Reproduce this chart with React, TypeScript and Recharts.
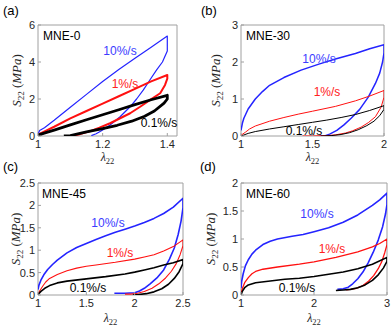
import React from 'react'
import { LineChart, Line, XAxis, YAxis, ReferenceArea } from 'recharts'

type Pt = [number, number]

// each loop: loading branch, then unloading branch (strain λ22, stress S22 in MPa)

// (a) MNE-0
const a10: Pt[] = [[1, 0.1], [1.005, 0.3], [1.02, 0.45], [1.05, 0.85], [1.1, 1.55], [1.15, 2.25], [1.2, 2.95], [1.25, 3.6], [1.3, 4.2], [1.35, 4.8], [1.4, 5.4], [1.4, 4.6], [1.385, 4.0], [1.367, 3.57], [1.345, 3.0], [1.326, 2.49], [1.305, 2.0], [1.285, 1.58], [1.254, 1.04], [1.223, 0.59], [1.2, 0.32], [1.18, 0.12], [1.165, 0.02]]
const a1: Pt[] = [[1, 0.08], [1.05, 0.5], [1.1, 0.95], [1.15, 1.35], [1.2, 1.75], [1.25, 2.15], [1.3, 2.55], [1.35, 2.95], [1.4, 3.3], [1.4, 3.1], [1.393, 2.76], [1.378, 2.31], [1.347, 1.95], [1.316, 1.58], [1.285, 1.23], [1.254, 0.96], [1.223, 0.69], [1.19, 0.45], [1.16, 0.25], [1.13, 0.1], [1.11, 0.03], [1.1, 0.0]]
const a01: Pt[] = [[1, 0.05], [1.05, 0.32], [1.1, 0.6], [1.15, 0.88], [1.2, 1.15], [1.25, 1.42], [1.3, 1.7], [1.35, 1.96], [1.4, 2.2], [1.4, 2.0], [1.39, 1.78], [1.36, 1.35], [1.33, 1.07], [1.29, 0.8], [1.245, 0.58], [1.2, 0.4], [1.15, 0.22], [1.12, 0.1], [1.1, 0.02], [1.08, 0.0]]

// (b) MNE-30
const b10: Pt[] = [[1, 0.15], [1.01, 0.35], [1.02, 0.48], [1.05, 0.73], [1.1, 1.0], [1.15, 1.2], [1.2, 1.37], [1.3, 1.58], [1.42, 1.78], [1.55, 1.95], [1.66, 2.08], [1.8, 2.23], [1.9, 2.36], [2.0, 2.47], [2.0, 2.25], [1.99, 2.0], [1.97, 1.7], [1.94, 1.42], [1.89, 1.05], [1.83, 0.72], [1.77, 0.48], [1.72, 0.3], [1.67, 0.15], [1.62, 0.05], [1.59, 0.01], [1.55, 0.0]]
const b1: Pt[] = [[1, 0.02], [1.03, 0.1], [1.06, 0.19], [1.1, 0.27], [1.2, 0.4], [1.3, 0.5], [1.4, 0.59], [1.5, 0.67], [1.66, 0.8], [1.8, 0.95], [1.9, 1.08], [2.0, 1.23], [2.0, 1.05], [1.98, 0.78], [1.94, 0.52], [1.89, 0.36], [1.84, 0.24], [1.78, 0.14], [1.73, 0.08], [1.66, 0.03], [1.6, 0.01], [1.5, 0.0], [1.43, 0.0]]
const b01: Pt[] = [[1, 0.0], [1.05, 0.07], [1.1, 0.12], [1.2, 0.19], [1.3, 0.25], [1.4, 0.31], [1.5, 0.37], [1.6, 0.43], [1.7, 0.5], [1.8, 0.58], [1.9, 0.69], [2.0, 0.82], [2.0, 0.72], [1.97, 0.55], [1.93, 0.4], [1.88, 0.28], [1.82, 0.17], [1.76, 0.09], [1.7, 0.04], [1.63, 0.01], [1.56, 0.0]]

// (c) MNE-45
const c10: Pt[] = [[1, 0.12], [1.01, 0.22], [1.03, 0.33], [1.06, 0.45], [1.1, 0.57], [1.15, 0.68], [1.2, 0.78], [1.3, 0.94], [1.4, 1.06], [1.5, 1.15], [1.6, 1.24], [1.7, 1.32], [1.8, 1.4], [1.9, 1.47], [2.0, 1.54], [2.1, 1.62], [2.2, 1.71], [2.3, 1.82], [2.4, 1.96], [2.5, 2.16], [2.5, 1.95], [2.48, 1.65], [2.45, 1.35], [2.41, 1.05], [2.36, 0.8], [2.3, 0.56], [2.23, 0.38], [2.16, 0.25], [2.1, 0.15], [2.05, 0.09], [2.0, 0.05], [1.9, 0.04], [1.79, 0.04]]
const c1: Pt[] = [[1, 0.02], [1.02, 0.1], [1.05, 0.2], [1.08, 0.29], [1.12, 0.37], [1.2, 0.46], [1.3, 0.54], [1.4, 0.6], [1.5, 0.64], [1.6, 0.67], [1.8, 0.73], [2.0, 0.8], [2.1, 0.85], [2.2, 0.9], [2.3, 0.98], [2.4, 1.08], [2.5, 1.23], [2.5, 1.1], [2.47, 0.9], [2.43, 0.7], [2.38, 0.53], [2.32, 0.38], [2.25, 0.25], [2.18, 0.15], [2.1, 0.08], [2.03, 0.04], [1.96, 0.02], [1.9, 0.02]]
const c01: Pt[] = [[1, 0.01], [1.03, 0.08], [1.07, 0.15], [1.12, 0.21], [1.2, 0.27], [1.3, 0.31], [1.5, 0.36], [1.7, 0.41], [1.9, 0.47], [2.0, 0.51], [2.1, 0.56], [2.2, 0.61], [2.3, 0.67], [2.4, 0.72], [2.5, 0.79], [2.5, 0.7], [2.46, 0.52], [2.41, 0.37], [2.35, 0.24], [2.28, 0.14], [2.2, 0.07], [2.12, 0.03], [2.04, 0.01], [1.98, 0.0]]

// (d) MNE-60
const d10: Pt[] = [[1, 0.12], [1.01, 0.25], [1.03, 0.38], [1.06, 0.52], [1.1, 0.63], [1.15, 0.73], [1.2, 0.8], [1.3, 0.9], [1.4, 0.96], [1.5, 1.0], [1.7, 1.05], [1.85, 1.08], [2.0, 1.13], [2.2, 1.2], [2.4, 1.3], [2.6, 1.43], [2.8, 1.6], [2.9, 1.7], [3.0, 1.82], [3.0, 1.62], [2.98, 1.45], [2.94, 1.22], [2.88, 0.98], [2.81, 0.76], [2.74, 0.57], [2.67, 0.41], [2.6, 0.29], [2.53, 0.2], [2.47, 0.14], [2.4, 0.11], [2.32, 0.1]]
const d1: Pt[] = [[1, 0.02], [1.02, 0.12], [1.05, 0.22], [1.1, 0.31], [1.15, 0.38], [1.2, 0.42], [1.3, 0.46], [1.5, 0.5], [1.8, 0.55], [2.0, 0.59], [2.3, 0.67], [2.6, 0.77], [2.8, 0.86], [2.9, 0.92], [3.0, 1.0], [3.0, 0.9], [2.97, 0.76], [2.93, 0.6], [2.88, 0.47], [2.82, 0.35], [2.75, 0.25], [2.67, 0.17], [2.58, 0.12], [2.5, 0.1], [2.44, 0.09]]
const d01: Pt[] = [[1, 0.0], [1.02, 0.07], [1.05, 0.13], [1.1, 0.18], [1.2, 0.22], [1.4, 0.25], [1.6, 0.28], [1.8, 0.3], [2.0, 0.33], [2.2, 0.37], [2.4, 0.41], [2.6, 0.47], [2.8, 0.55], [3.0, 0.67], [3.0, 0.6], [2.95, 0.48], [2.88, 0.36], [2.8, 0.26], [2.7, 0.18], [2.6, 0.13], [2.5, 0.1], [2.4, 0.09], [2.3, 0.08]]

const rateLabels = ['10%/s', '1%/s', '0.1%/s']
const sampleNames = ['MNE-0', 'MNE-30', 'MNE-45', 'MNE-60']
const panelLetters = ['(a)', '(b)', '(c)', '(d)']

const xTicksA = [1, 1.2, 1.4]
const xTicksB = [1, 1.5, 2]
const xTicksC = [1, 1.5, 2, 2.5]
const xTicksD = [1, 2, 3]
const yTicksA = [0, 2, 4, 6]
const yTicksB = [0, 1, 2, 3]
const yTicksC = [0, 0.5, 1, 1.5, 2, 2.5]
const yTicksD = [0, 0.5, 1, 1.5, 2]

const BLUE = '#2424ff'
const RED = '#ff1010'
const BLACK = '#000000'
const TEXT_BLUE = '#3c3cff'
const TEXT_RED = '#ff2020'
const FRAME = '#a0a0a0'
const TICK_TEXT = '#262626'

interface PanelDef {
  box: { left: number; top: number; right: number; bottom: number }
  xDomain: [number, number]
  yDomain: [number, number]
  xTicks: number[]
  yTicks: number[]
  loops: Pt[][]
  widths: number[]
  letterPos: [number, number]
  namePos: [number, number]
  ratePos: [number, number][]
  yLabelX: number
  xLabelY: number
}

const panels: PanelDef[] = [
  {
    box: { left: 38, top: 25, right: 177, bottom: 136 },
    xDomain: [1, 1.43], yDomain: [0, 6], xTicks: xTicksA, yTicks: yTicksA,
    loops: [a10, a1, a01], widths: [1.2, 2, 2.8],
    letterPos: [3, 15], namePos: [43, 40],
    ratePos: [[120, 55], [125, 88], [159, 127]],
    yLabelX: 17, xLabelY: 161,
  },
  {
    box: { left: 241, top: 25, right: 384, bottom: 136 },
    xDomain: [1, 2], yDomain: [0, 3], xTicks: xTicksB, yTicks: yTicksB,
    loops: [b10, b1, b01], widths: [1.5, 1, 1],
    letterPos: [201, 15], namePos: [246, 40],
    ratePos: [[319, 63], [327, 96], [304, 135]],
    yLabelX: 216, xLabelY: 161,
  },
  {
    box: { left: 38, top: 183, right: 183, bottom: 295 },
    xDomain: [1, 2.5], yDomain: [0, 2.5], xTicks: xTicksC, yTicks: yTicksC,
    loops: [c10, c1, c01], widths: [1.6, 1.1, 1.6],
    letterPos: [3, 171], namePos: [42, 198],
    ratePos: [[108, 227], [120, 257], [88, 292]],
    yLabelX: 16, xLabelY: 322,
  },
  {
    box: { left: 241, top: 183, right: 387, bottom: 295 },
    xDomain: [1, 3], yDomain: [0, 2], xTicks: xTicksD, yTicks: yTicksD,
    loops: [d10, d1, d01], widths: [1.6, 1.3, 1.6],
    letterPos: [200, 171], namePos: [246, 198],
    ratePos: [[317, 218], [332, 253], [297, 292]],
    yLabelX: 211, xLabelY: 322,
  },
]

const lineColors = [BLUE, RED, BLACK]
const textColors = [TEXT_BLUE, TEXT_RED, BLACK]

function Panel({ p }: { p: PanelDef }) {
  const yw = 40
  const xh = 30
  const padTop = 10
  const padRight = 12
  const width = p.box.right - p.box.left + yw + padRight
  const height = p.box.bottom - p.box.top + padTop + xh
  const tickStyle = { fontSize: 11, fill: TICK_TEXT }
  return (
    <div style={{ position: 'absolute', left: p.box.left - yw, top: p.box.top - padTop }}>
      <LineChart width={width} height={height} margin={{ top: padTop, right: padRight, left: 0, bottom: 0 }}>
        <XAxis
          type="number"
          dataKey="x"
          domain={p.xDomain}
          ticks={p.xTicks}
          allowDataOverflow
          height={xh}
          axisLine={false}
          tickLine={{ stroke: FRAME }}
          tickSize={-3}
          tickMargin={7}
          tick={tickStyle}
          interval={0}
        />
        <YAxis
          type="number"
          domain={p.yDomain}
          ticks={p.yTicks}
          allowDataOverflow
          width={yw}
          axisLine={false}
          tickLine={{ stroke: FRAME }}
          tickSize={-3}
          tickMargin={6}
          tick={tickStyle}
          interval={0}
        />
        <ReferenceArea
          x1={p.xDomain[0]}
          x2={p.xDomain[1]}
          y1={p.yDomain[0]}
          y2={p.yDomain[1]}
          fill="none"
          stroke={FRAME}
          strokeWidth={1}
          ifOverflow="visible"
        />
        {p.loops.map((loop, i) => (
          <Line
            key={i}
            data={loop.map(([x, y]) => ({ x, y }))}
            dataKey="y"
            type="linear"
            stroke={lineColors[i]}
            strokeWidth={p.widths[i]}
            strokeLinejoin="round"
            dot={false}
            activeDot={false}
            isAnimationActive={false}
          />
        ))}
      </LineChart>
    </div>
  )
}

function Overlay() {
  const serif = '"Liberation Serif", "DejaVu Serif", serif'
  return (
    <svg width={392} height={327} style={{ position: 'absolute', left: 0, top: 0, pointerEvents: 'none' }}>
      {panels.map((p, k) => {
        const cy = (p.box.top + p.box.bottom) / 2
        const cx = (p.box.left + p.box.right) / 2
        return (
          <g key={k}>
            <text x={p.letterPos[0]} y={p.letterPos[1]} fontSize={13} fill={BLACK}>{panelLetters[k]}</text>
            <text x={p.namePos[0]} y={p.namePos[1]} fontSize={12} fill={BLACK}>{sampleNames[k]}</text>
            {rateLabels.map((r, i) => (
              <text key={i} x={p.ratePos[i][0]} y={p.ratePos[i][1]} fontSize={12} textAnchor="middle" fill={textColors[i]}>{r}</text>
            ))}
            <text
              x={p.yLabelX + 4}
              y={cy}
              transform={`rotate(-90 ${p.yLabelX + 4} ${cy})`}
              textAnchor="middle"
              fontFamily={serif}
              fontSize={13}
              fill={TICK_TEXT}
            >
              <tspan fontStyle="italic">S</tspan>
              <tspan fontSize={9} dy={3}>22</tspan>
              <tspan dy={-3}>{' ('}</tspan>
              <tspan fontStyle="italic">MPa</tspan>
              <tspan>)</tspan>
            </text>
            <text x={cx} y={p.xLabelY} textAnchor="middle" fontFamily={serif} fontSize={12} fill={TICK_TEXT}>
              <tspan fontStyle="italic">λ</tspan>
              <tspan fontSize={8.5} dy={2.5}>22</tspan>
            </text>
          </g>
        )
      })}
    </svg>
  )
}

export default function App() {
  return (
    <div
      style={{
        position: 'absolute',
        left: 0,
        top: 0,
        width: 392,
        height: 327,
        background: '#fff',
        fontFamily: '"Liberation Sans", Arial, sans-serif',
        overflow: 'hidden',
      }}
    >
      {panels.map((p, k) => (
        <Panel key={k} p={p} />
      ))}
      <Overlay />
    </div>
  )
}
